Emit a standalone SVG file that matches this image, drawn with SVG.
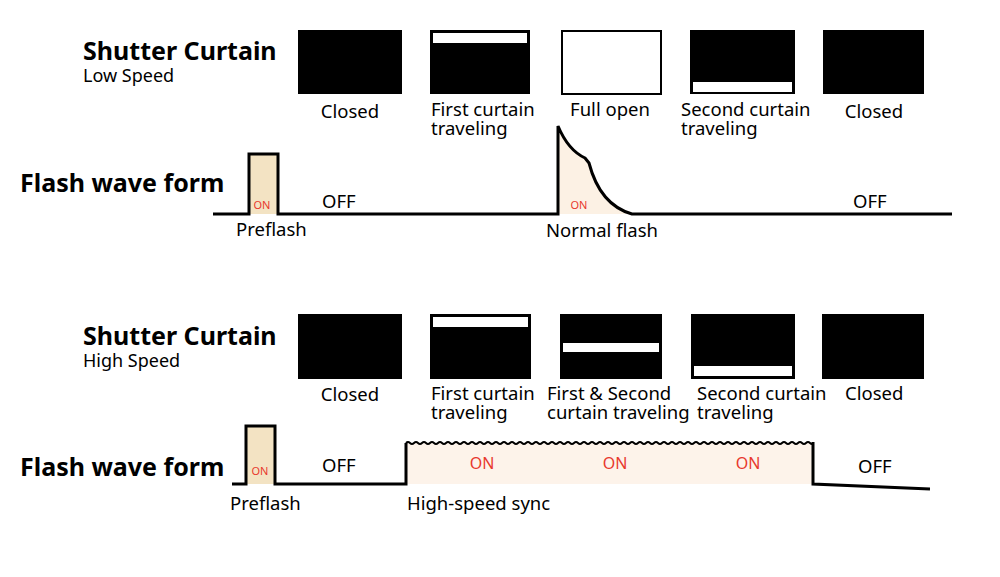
<svg xmlns="http://www.w3.org/2000/svg" width="1000" height="577" viewBox="0 0 1000 577">
<style>
text{font-family:"Noto Sans","DejaVu Sans",sans-serif;fill:#000}
.title{font-size:25px;font-weight:bold}
.sub{font-size:18px}
.off{font-size:18.5px}
.lbl{font-size:18.5px}
.on{fill:#e8392e;font-size:16px}
.ons{fill:#e8392e;font-size:11px}
.blk{fill:#000}
.wht{fill:#fff;stroke:#000;stroke-width:2}
.open{fill:#fff;stroke:#000;stroke-width:2}
.wave{fill:none;stroke:#000;stroke-width:3;stroke-linejoin:miter}
</style>
<defs>
<clipPath id="hssclip"><rect x="405" y="430" width="408" height="30"/></clipPath>
</defs>
<rect width="1000" height="577" fill="#fff"/>

<g id="low-speed-title">
<text class="title" x="83" y="60">Shutter Curtain</text>
<text class="sub" x="83" y="82">Low Speed</text>
</g>
<g id="low-closed-1"><rect class="blk" x="298" y="30" width="104" height="64"/><text class="lbl" x="350" y="118" text-anchor="middle">Closed</text></g>
<g id="low-first"><rect class="blk" x="430" y="30" width="100" height="64"/><rect class="wht" x="432" y="32" width="96" height="12"/><text class="lbl" x="431" y="116">First curtain</text><text class="lbl" x="431" y="135">traveling</text></g>
<g id="low-open"><rect class="open" x="562" y="31" width="99" height="63"/><text class="lbl" x="610" y="116" text-anchor="middle">Full open</text></g>
<g id="low-second"><rect class="blk" x="690" y="30" width="105" height="64"/><rect class="wht" x="692" y="81" width="101" height="12"/><text class="lbl" x="681" y="116">Second curtain</text><text class="lbl" x="681" y="135">traveling</text></g>
<g id="low-closed-2"><rect class="blk" x="823" y="30" width="101" height="64"/><text class="lbl" x="874" y="118" text-anchor="middle">Closed</text></g>

<g id="low-flash">
<text class="title" x="20" y="192">Flash wave form</text>
<rect x="249" y="154" width="29" height="60" fill="#f3e3c3"/>
<path d="M558,214 L558,126 Q568,150 585,158 L589,163 Q600,205 632,214 Z" fill="#fcf1e4"/>
<path class="wave" d="M213,214 H249 V154 H278 V214 H558 V126 Q568,150 585,158 L589,163 Q600,205 632,214 H952"/>
<text class="ons" x="262" y="209" text-anchor="middle">ON</text>
<text class="ons" x="579" y="209" text-anchor="middle">ON</text>
<text class="off" x="322" y="208">OFF</text>
<text class="off" x="853" y="208">OFF</text>
<text class="lbl" x="236" y="236">Preflash</text>
<text class="lbl" x="546" y="237">Normal flash</text>
</g>

<g id="high-speed-title">
<text class="title" x="83" y="345">Shutter Curtain</text>
<text class="sub" x="83" y="367">High Speed</text>
</g>
<g id="high-closed-1"><rect class="blk" x="298" y="314" width="104" height="65"/><text class="lbl" x="350" y="401" text-anchor="middle">Closed</text></g>
<g id="high-first"><rect class="blk" x="430" y="314" width="101" height="65"/><rect class="wht" x="432" y="316" width="97" height="12"/><text class="lbl" x="431" y="400">First curtain</text><text class="lbl" x="431" y="419">traveling</text></g>
<g id="high-both"><rect class="blk" x="560" y="314" width="102" height="65"/><rect class="wht" x="562" y="342" width="98" height="11"/><text class="lbl" x="547" y="400">First &amp; Second</text><text class="lbl" x="547" y="419">curtain traveling</text></g>
<g id="high-second"><rect class="blk" x="691" y="314" width="104" height="65"/><rect class="wht" x="693" y="365" width="100" height="12"/><text class="lbl" x="697" y="400">Second curtain</text><text class="lbl" x="697" y="419">traveling</text></g>
<g id="high-closed-2"><rect class="blk" x="822" y="314" width="102" height="65"/><text class="lbl" x="845" y="400">Closed</text></g>

<g id="high-flash">
<text class="title" x="20" y="476">Flash wave form</text>
<rect x="246" y="426" width="29" height="58" fill="#f3e3c3"/>
<rect x="406" y="443" width="407" height="41" fill="#fdf3ea"/>
<path class="wave" d="M232,484 H246 V426 H275 V484 H406 V443"/>
<path clip-path="url(#hssclip)" fill="none" stroke="#000" stroke-width="2" d="M406,443 q2,-2 4,0 t4,0 t4,0 t4,0 t4,0 t4,0 t4,0 t4,0 t4,0 t4,0 t4,0 t4,0 t4,0 t4,0 t4,0 t4,0 t4,0 t4,0 t4,0 t4,0 t4,0 t4,0 t4,0 t4,0 t4,0 t4,0 t4,0 t4,0 t4,0 t4,0 t4,0 t4,0 t4,0 t4,0 t4,0 t4,0 t4,0 t4,0 t4,0 t4,0 t4,0 t4,0 t4,0 t4,0 t4,0 t4,0 t4,0 t4,0 t4,0 t4,0 t4,0 t4,0 t4,0 t4,0 t4,0 t4,0 t4,0 t4,0 t4,0 t4,0 t4,0 t4,0 t4,0 t4,0 t4,0 t4,0 t4,0 t4,0 t4,0 t4,0 t4,0 t4,0 t4,0 t4,0 t4,0 t4,0 t4,0 t4,0 t4,0 t4,0 t4,0 t4,0 t4,0 t4,0 t4,0 t4,0 t4,0 t4,0 t4,0 t4,0 t4,0 t4,0 t4,0 t4,0 t4,0 t4,0 t4,0 t4,0 t4,0 t4,0 t4,0 t4,0 t4,0 t4,0 t4,0 t4,0 t4,0 t4,0 t4,0 t4,0 t4,0 t4,0 t4,0 t4,0 t4,0 t4,0 t4,0 t4,0"/>
<path class="wave" d="M813,442 V484 L930,489"/>
<text class="ons" x="260" y="475" text-anchor="middle">ON</text>
<text class="on" x="482" y="469" text-anchor="middle">ON</text>
<text class="on" x="615" y="469" text-anchor="middle">ON</text>
<text class="on" x="748" y="469" text-anchor="middle">ON</text>
<text class="off" x="322" y="472">OFF</text>
<text class="off" x="858" y="473">OFF</text>
<text class="lbl" x="230" y="510">Preflash</text>
<text class="lbl" x="407" y="510">High-speed sync</text>
</g>
</svg>
